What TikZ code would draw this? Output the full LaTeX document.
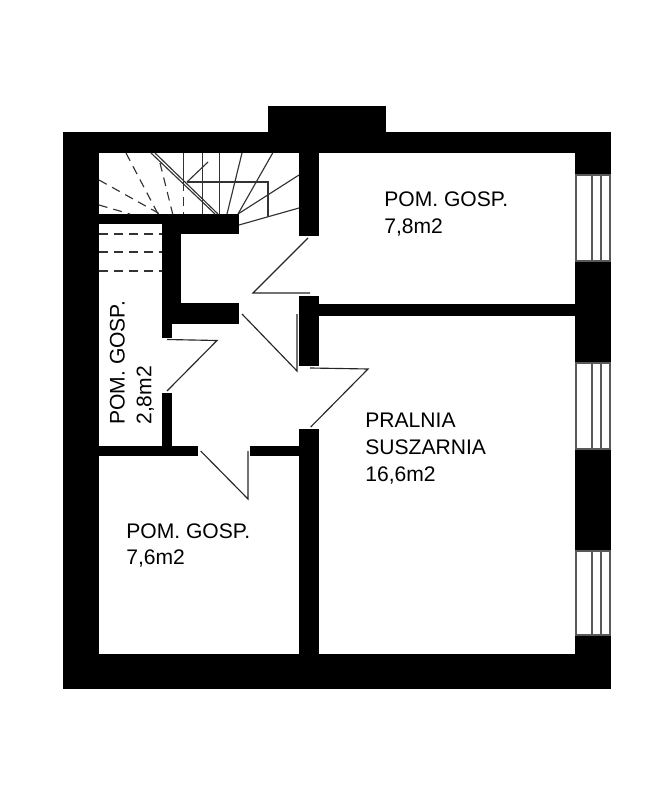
\documentclass[tikz,border=0pt]{standalone}
\usepackage{fontspec}
\setmainfont{Liberation Sans}
\tikzset{
	wall/.style={fill=black},
	stairline/.style={draw=black!80, line width=0.65pt},
	stairdash/.style={stairline, dash pattern={on 5pt off 3.5pt}},
	doorline/.style={draw=black!85, line width=0.65pt},
	windowbox/.style={draw=black!65, fill=white, line width=0.7pt},
	roomlabel/.style={align=left, inner sep=0pt, anchor=north west, font=\fontsize{12}{15.3}\selectfont}
}
\begin{document}
\begin{tikzpicture}[x=0.02cm, y=-0.02cm]
	\useasboundingbox (0, 0) rectangle (669, 800);
	% Outer walls and chimney:
	\fill[wall] (268, 106) rectangle (386, 132);
	\fill[wall] (63, 132) rectangle (611, 153);
	\fill[wall] (63, 654) rectangle (611, 689);
	\fill[wall] (63, 132) rectangle (99, 689);
	\fill[wall] (575, 132) rectangle (611, 689);
	% Inner walls:
	\fill[wall] (299, 153) rectangle (319, 236);
	\fill[wall] (299, 296) rectangle (319, 366);
	\fill[wall] (299, 429) rectangle (319, 654);
	\fill[wall] (319, 304) rectangle (575, 316);
	\fill[wall] (99, 214) rectangle (239, 224);
	\fill[wall] (162, 224) rectangle (239, 234);
	\fill[wall] (162, 234) rectangle (181, 303);
	\fill[wall] (162, 303) rectangle (239, 324);
	\fill[wall] (162, 324) rectangle (172, 338);
	\fill[wall] (162, 393) rectangle (172, 446);
	\fill[wall] (99, 446) rectangle (198, 456);
	\fill[wall] (250, 446) rectangle (299, 456);
	% Windows:
	\foreach \ya/\yb in {175/261, 363/449, 551/635}{
		\draw[windowbox] (576, \ya) rectangle (610, \yb);
		\draw[windowbox] (592, \ya) -- (592, \yb);
		\draw[windowbox] (601, \ya) -- (601, \yb);
	}
	% Stairs, solid:
	\draw[stairline] (151, 153) -- (215, 214);
	\draw[stairline] (155, 153) -- (218, 214);
	\draw[stairline] (183.3, 153) -- (183.3, 182);
	\draw[stairline] (202.3, 153) -- (202.3, 205);
	\draw[stairline] (219.3, 153) -- (219.3, 214);
	\draw[stairline] (242, 153) -- (227, 214);
	\draw[stairline] (272.7, 153) -- (238, 214);
	\draw[stairline] (299, 175) -- (238, 214);
	\draw[stairline] (299, 208) -- (239, 225);
	\draw[stairline] (187, 182) -- (268, 182) -- (268, 216.7);
	\draw[stairline] (187, 182) -- (208, 162);
	% Stairs, dashed:
	\draw[stairdash] (126, 153) -- (158, 214);
	\draw[stairdash] (160, 163) -- (172.7, 214);
	\draw[stairdash] (99, 180) -- (160, 214);
	\draw[stairdash] (99, 205) -- (130, 214);
	\draw[stairdash] (183.3, 182) -- (183.3, 214);
	\draw[stairdash] (202.3, 205) -- (202.3, 214);
	\foreach \y in {234, 252, 271}{
		\draw[stairdash] (99, \y) -- (162, \y);
	}
	% Doors:
	\draw[doorline] (308, 238) -- (253, 293) -- (310, 293);
	\draw[doorline] (167, 339.5) -- (217, 340.5) -- (167, 391);
	\draw[doorline] (242, 314) -- (297, 371) -- (297, 314);
	\draw[doorline] (310, 368) -- (368, 369) -- (310.7, 427);
	\draw[doorline] (200.7, 451) -- (248, 499) -- (248, 451);
	% Room labels:
	\node[roomlabel] (RoomA) at (384, 191.5){POM. GOSP.\\7,8m2};
	\node[roomlabel] (RoomB) at (365, 412.5){PRALNIA\\SUSZARNIA\\16,6m2};
	\node[roomlabel] (RoomC) at (126, 523){POM. GOSP.\\7,6m2};
	\node[roomlabel, rotate=90, anchor=north west] (RoomD) at (109.5, 425){POM. GOSP.\\2,8m2};
\end{tikzpicture}
\end{document}
